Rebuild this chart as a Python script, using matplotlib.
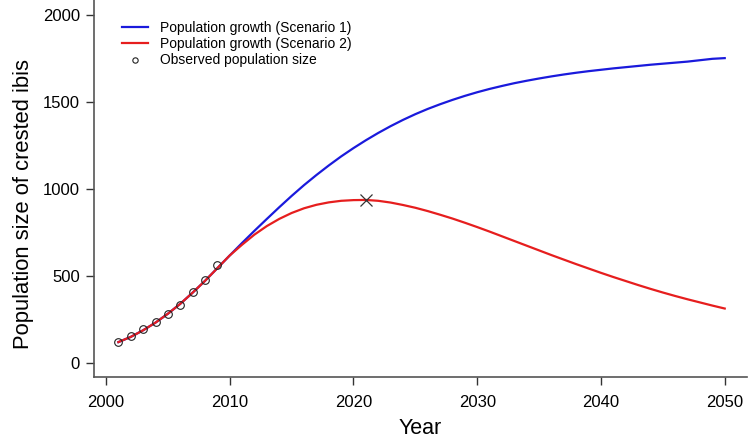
import matplotlib
matplotlib.use("Agg")
import matplotlib.pyplot as plt

plt.rcParams['font.family'] = ['Liberation Sans', 'DejaVu Sans']

years = list(range(2001, 2051))
scenario1 = [120, 150, 188, 232, 283, 340, 404, 472, 545, 618,
             690, 760, 828, 895, 960, 1022, 1080, 1135, 1187, 1235,
             1280, 1322, 1361, 1397, 1430, 1460, 1487, 1512, 1535, 1556,
             1575, 1592, 1608, 1622, 1635, 1647, 1658, 1668, 1677, 1685,
             1693, 1700, 1707, 1714, 1720, 1726, 1732, 1740, 1748, 1752]
scenario2 = [120, 150, 188, 232, 283, 340, 404, 472, 545, 618,
             680, 738, 787, 828, 862, 889, 909, 923, 932, 936,
             937, 932, 922, 908, 892, 873, 852, 830, 806, 781,
             755, 728, 701, 674, 647, 620, 594, 568, 543, 518,
             494, 471, 448, 426, 405, 385, 366, 348, 330, 313]
obs_years = [2001, 2002, 2003, 2004, 2005, 2006, 2007, 2008, 2009]
obs_values = [121, 155, 195, 235, 281, 333, 408, 477, 563]
peak_year = [2021]
peak_value = [937]

fig = plt.figure(figsize=(7.5, 4.38), dpi=100)
ax = fig.add_axes([94/750, 1 - 377/438, (747 - 94)/750, 377/438])

ax.plot(years, scenario1, color='#1a1adc', lw=1.6, label='Population growth (Scenario 1)')
ax.plot(years, scenario2, color='#e61e1e', lw=1.6, label='Population growth (Scenario 2)')
ax.plot(obs_years, obs_values, 'o', mfc='none', mec='#222222', ms=5.5, mew=0.8,
        label='Observed population size')
ax.plot(peak_year, peak_value, 'x', color='#333333', ms=8, mew=0.9)

ax.set_xlim(1999.03, 2051.8)
ax.set_ylim(-80.5, 2086)
ax.set_xticks([2000, 2010, 2020, 2030, 2040, 2050])
ax.set_yticks([0, 500, 1000, 1500, 2000])
ax.tick_params(direction='out', length=6, width=1, labelsize=12, colors='#333333',
               labelcolor='black')
ax.tick_params(axis='x', pad=7)
ax.tick_params(axis='y', pad=4)
for s in ['top', 'right']:
    ax.spines[s].set_visible(False)
for s in ['left', 'bottom']:
    ax.spines[s].set_color('#555555')
    ax.spines[s].set_linewidth(1.2)

ax.set_xlabel('Year', fontsize=15.5)
ax.xaxis.set_label_coords(0.5, -0.11)
ax.set_ylabel('Population size of crested ibis', fontsize=15.8)
ax.yaxis.set_label_coords(-0.092, 0.46)

leg = ax.legend(loc='upper left', bbox_to_anchor=(0.0277, 0.970), frameon=False, fontsize=10,
                handlelength=1.88, handletextpad=0.9, labelspacing=0.16, markerscale=0.7,
                borderaxespad=0.3)

fig.savefig('out.png', dpi=100)
